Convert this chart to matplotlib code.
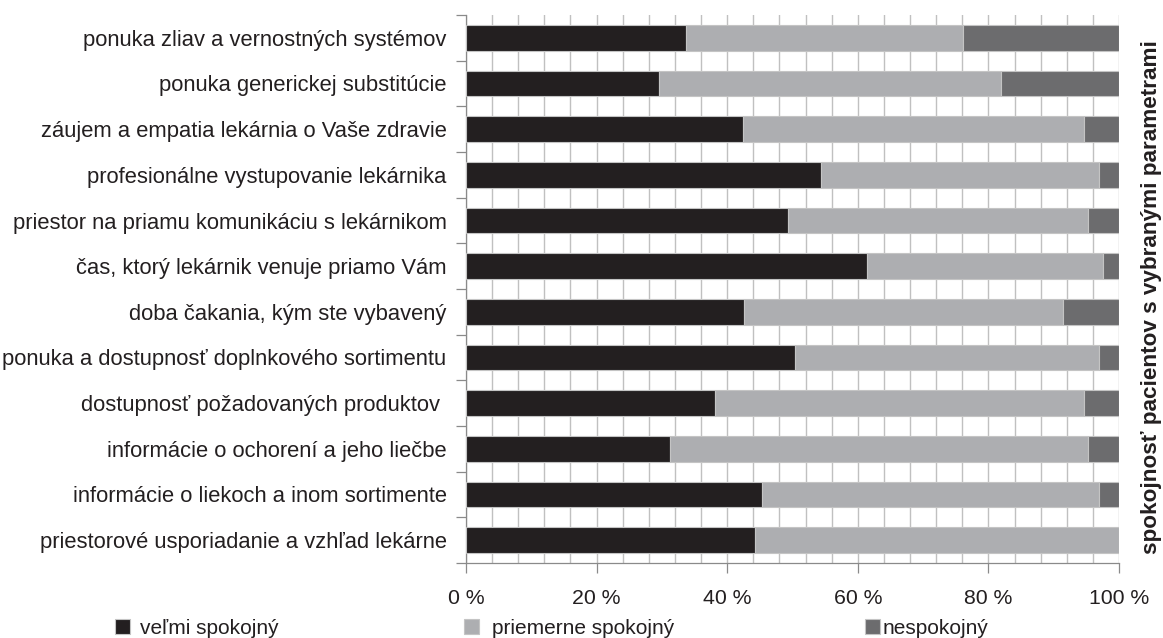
import matplotlib
matplotlib.use("Agg")
import matplotlib.pyplot as plt
import numpy as np

plt.rcParams['font.family'] = ['Liberation Sans', 'DejaVu Sans']

categories = [
    "ponuka zliav a vernostných systémov",
    "ponuka generickej substitúcie",
    "záujem a empatia lekárnia o Vaše zdravie",
    "profesionálne vystupovanie lekárnika",
    "priestor na priamu komunikáciu s lekárnikom",
    "čas, ktorý lekárnik venuje priamo Vám",
    "doba čakania, kým ste vybavený",
    "ponuka a dostupnosť doplnkového sortimentu",
    "dostupnosť požadovaných produktov ",
    "informácie o ochorení a jeho liečbe",
    "informácie o liekoch a inom sortimente",
    "priestorové usporiadanie a vzhľad lekárne",
]
velmi = [33.7, 29.5, 42.4, 54.4, 49.3, 61.4, 42.5, 50.4, 38.2, 31.2, 45.3, 44.2]
priemerne = [42.4, 52.5, 52.2, 42.6, 45.9, 36.2, 49.0, 46.6, 56.4, 64.0, 51.7, 55.8]
nespokojny = [23.9, 18.0, 5.4, 3.0, 4.8, 2.4, 8.5, 3.0, 5.4, 4.8, 3.0, 0.0]
series_names = ["veľmi spokojný", "priemerne spokojný", "nespokojný"]
xtick_values = [0, 20, 40, 60, 80, 100]
xtick_labels = ["0 %", "20 %", "40 %", "60 %", "80 %", "100 %"]
ylabel_text = "spokojnosť pacientov s vybranými parametrami"

colors = ["#231f20", "#adaeb1", "#6c6c6e"]
edge = "#c4c4c4"

fig = plt.figure(figsize=(11.63, 6.38), dpi=100)
ax = fig.add_axes([466/1163, 1-563/638, (1119-466)/1163, (563-15)/638])

y = np.arange(len(categories))
h = 0.56
left = np.zeros(len(categories))
bars = []
for vals, col, name in zip([velmi, priemerne, nespokojny], colors, series_names):
    b = ax.barh(y, vals, left=left, height=h, color=col, edgecolor=edge,
                linewidth=0.8, label=name, zorder=3)
    bars.append(b)
    left = left + np.array(vals)

ax.set_xlim(0, 100)
ax.set_ylim(len(categories) - 0.5, -0.5)

# x axis
ax.set_xticks(xtick_values)
ax.set_xticklabels(xtick_labels, fontsize=15.3, color="#231f20")
ax.set_xticks(np.arange(0, 101, 4), minor=True)
ax.tick_params(axis='x', which='major', length=7, width=0.9, color="#8a8a8a",
               pad=12, direction='out')
ax.tick_params(axis='x', which='minor', length=0)
ax.grid(axis='x', which='both', color="#c0c0c0", linewidth=1.0, zorder=0)

# y axis: boundary ticks + labels at centres
ax.set_yticks(np.arange(-0.5, len(categories), 1.0))
ax.set_yticklabels([])
ax.set_yticks(y, minor=True)
ax.set_yticklabels(categories, minor=True, fontsize=15.8, color="#231f20")
ax.tick_params(axis='y', which='major', length=7, width=0.9, color="#8a8a8a",
               direction='out')
ax.tick_params(axis='y', which='minor', length=0, pad=14)

for s in ['top', 'right']:
    ax.spines[s].set_visible(False)
for s in ['left', 'bottom']:
    ax.spines[s].set_color("#8a8a8a")
    ax.spines[s].set_linewidth(0.9)

fig.text(1151/1163, 1-297/638, ylabel_text, rotation=90, ha='center',
         va='center', fontsize=16.2, fontweight='bold', color="#231f20")

# legends
legend_x = [115/1163, 464/1163, 865/1163]
text_pads = [0.48, 0.62, 0.12]
for b, name, lx, tp in zip(bars, series_names, legend_x, text_pads):
    lg = fig.legend(handles=[b], labels=[name], loc='center left',
                    bbox_to_anchor=(lx, 1-628/638), frameon=False,
                    fontsize=15.0, handlelength=0.7, handleheight=0.7,
                    handletextpad=tp, borderpad=0, borderaxespad=0)
    for t in lg.get_texts():
        t.set_color("#231f20")

fig.savefig("out.png", dpi=100)
